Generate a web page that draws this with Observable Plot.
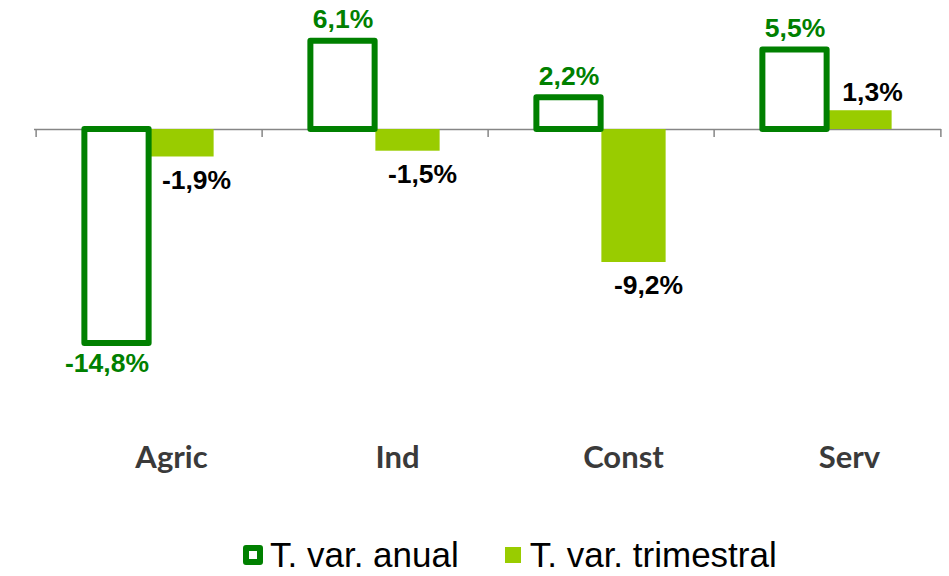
<!DOCTYPE html>
<html>
<head>
<meta charset="utf-8">
<script src="https://cdn.jsdelivr.net/npm/d3@7"></script>
<script src="https://cdn.jsdelivr.net/npm/@observablehq/plot@0.6"></script>
<style>
  html, body { margin: 0; padding: 0; background: #fff; }
  #wrap { width: 949px; height: 576px; position: relative; overflow: hidden; }
  #legend { position: absolute; left: 243px; top: 533px; height: 44px; display: flex; align-items: center;
            font-family: "Liberation Sans", Arial, sans-serif; font-size: 35px; color: #000; }
  .sw1 { width: 20px; height: 20px; box-sizing: border-box; border: 6px solid #008000; border-radius: 3px; background: #fff; margin-right: 7px; }
  .sw2 { width: 16px; height: 16px; background: #99CC00; margin-right: 9px; margin-left: 46px; }
</style>
</head>
<body>
<div id="wrap"><div id="chart"></div><div id="legend"></div></div>
<script>
const categories = ["Agric", "Ind", "Const", "Serv"];
const anual = [-14.8, 6.1, 2.2, 5.5];
const trimestral = [-1.9, -1.5, -9.2, 1.3];
const seriesNames = ["T. var. anual", "T. var. trimestral"];

const W = 949, H = 520;
const mLeft = 34, mRight = 8;
const bw = (W - mLeft - mRight) / categories.length;
const barW = 65;
const dark = "#008000", light = "#99CC00";
const fmt = v => v.toFixed(1).replace(".", ",") + "%";

const rowsA = categories.map((c, i) => ({cat: c, v: anual[i]}));
const rowsT = categories.map((c, i) => ({cat: c, v: trimestral[i]}));

const labelFont = {fontSize: 26.5, fontWeight: "bold", fontFamily: "Liberation Sans, Arial, sans-serif"};

const chart = Plot.plot({
  width: W, height: H,
  marginLeft: mLeft, marginRight: mRight, marginTop: 13.4, marginBottom: H - 447,
  x: {domain: categories, padding: 0},
  y: {domain: [-22, 8], axis: null},
  marks: [
    Plot.ruleY([0], {stroke: "#868686", strokeWidth: 1.5}),
    Plot.ruleX(categories, {x: d => d, y1: () => 0, y2: () => 0, dx: -bw / 2, insetBottom: -8, stroke: "#868686", strokeWidth: 1.5}),
    Plot.ruleX(categories.slice(-1), {x: d => d, y1: () => 0, y2: () => 0, dx: bw / 2, insetBottom: -8, stroke: "#868686", strokeWidth: 1.5}),
    Plot.barY(rowsT, {x: "cat", y: "v", fill: light, insetLeft: bw / 2, insetRight: bw / 2 - barW}),
    Plot.barY(rowsA, {x: "cat", y: "v", fill: "white", stroke: dark, strokeWidth: 6, strokeLinejoin: "round",
                      insetLeft: bw / 2 - barW, insetRight: bw / 2}),
    Plot.text(rowsA.filter(d => d.v >= 0), {x: "cat", y: "v", text: d => fmt(d.v), dx: -barW / 2, dy: -13,
                      lineAnchor: "bottom", fill: dark, ...labelFont}),
    Plot.text(rowsA.filter(d => d.v < 0), {x: "cat", y: "v", text: d => fmt(d.v), dx: -barW / 2 - 10, dy: 10,
                      lineAnchor: "top", fill: dark, ...labelFont}),
    Plot.text(rowsT.filter(d => d.v >= 0), {x: "cat", y: "v", text: d => fmt(d.v), dx: 45, dy: -10,
                      lineAnchor: "bottom", fill: "#000", ...labelFont}),
    Plot.text(rowsT.filter(d => d.v < 0), {x: "cat", y: "v", text: d => fmt(d.v), dx: 47, dy: 13,
                      lineAnchor: "top", fill: "#000", ...labelFont}),
    Plot.axisX({tickSize: 0, tickPadding: -2, dx: 22, fontSize: 31, fontWeight: "bold", fontFamily: "Lato, sans-serif", color: "#3a3a3a", label: null})
  ]
});
document.getElementById("chart").appendChild(chart);

const legend = document.getElementById("legend");
legend.innerHTML =
  `<div class="sw1"></div><span>${seriesNames[0]}</span><div class="sw2"></div><span>${seriesNames[1]}</span>`;
</script>
</body>
</html>
